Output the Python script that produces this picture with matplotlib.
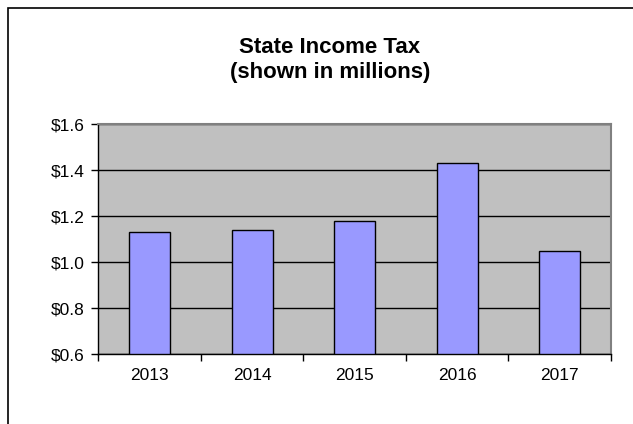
import matplotlib.pyplot as plt
from matplotlib.patches import Rectangle

years = ["2013", "2014", "2015", "2016", "2017"]
tax_millions = [1.13, 1.14, 1.18, 1.43, 1.05]
y_ticks = [0.6, 0.8, 1.0, 1.2, 1.4, 1.6]

plt.rcParams["font.family"] = ["Liberation Sans", "DejaVu Sans"]

fig = plt.figure(figsize=(6.33, 4.24), dpi=100)
ax = fig.add_axes([0.1553, 0.1644, 0.81, 0.5431])

# outer chart frame (right and bottom edges fall outside the image)
fig.patches.append(Rectangle((8 / 633, -0.1), 1.2, 1 - 8 / 424 + 0.1,
                             transform=fig.transFigure, fill=False,
                             edgecolor="black", linewidth=1.2))

ax.set_facecolor("#C0C0C0")
ax.set_axisbelow(True)
ax.yaxis.grid(True, color="black", linewidth=1.0)

positions = range(len(years))
ax.bar(positions, [v - 0.6 for v in tax_millions], bottom=0.6, width=0.4,
       color="#9999FF", edgecolor="black", linewidth=1.0, zorder=3)

ax.set_xlim(-0.5, len(years) - 0.5)
ax.set_ylim(0.6, 1.6)
ax.set_yticks(y_ticks)
ax.set_yticklabels([f"${v:.1f}" for v in y_ticks], fontsize=12.5)
ax.set_xticks(positions)
ax.set_xticklabels(years, fontsize=12.5)
ax.tick_params(axis="x", length=0, pad=10)
ax.set_xticks([p - 0.5 for p in range(len(years) + 1)], minor=True)
ax.tick_params(axis="x", which="minor", length=5, width=1, direction="out")
ax.tick_params(axis="y", length=5, width=1, pad=5)

for side in ["left", "bottom"]:
    ax.spines[side].set_color("black")
    ax.spines[side].set_linewidth(1.0)
for side in ["top", "right"]:
    ax.spines[side].set_color("#808080")
    ax.spines[side].set_linewidth(1.5)

fig.text(330 / 633, 1 - 53 / 424, "State Income Tax", ha="center",
         va="baseline", fontsize=16, fontweight="bold")
fig.text(330 / 633, 1 - 78 / 424, "(shown in millions)", ha="center",
         va="baseline", fontsize=16, fontweight="bold")

plt.savefig("out.png", dpi=100)
plt.close()
